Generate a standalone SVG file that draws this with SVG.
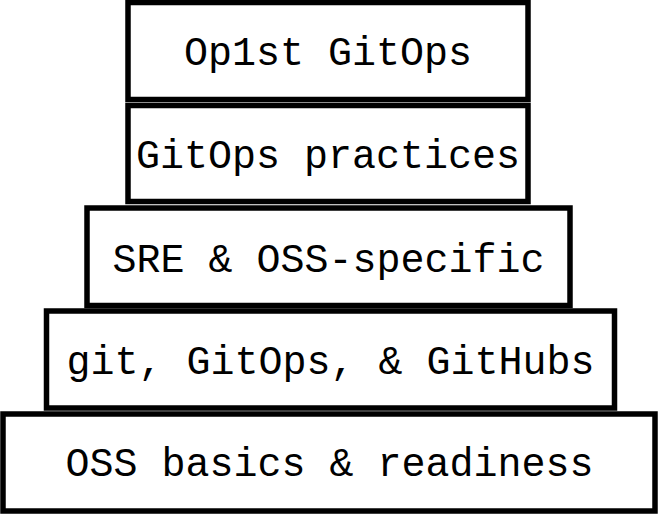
<svg xmlns="http://www.w3.org/2000/svg" width="658" height="514" viewBox="0 0 658 514">
<style>
.box{fill:#fff;stroke:#000;stroke-width:5.5}
.lbl{font-family:"Liberation Mono","DejaVu Sans Mono",monospace;font-size:40px;fill:#000;text-anchor:middle}
</style>
<rect width="658" height="514" fill="#fff"/>
<g id="connectors"></g>
<g id="layer1">
<rect class="box" x="128" y="2.5" width="400" height="97"/>
<text class="lbl" x="328" y="65">Op1st GitOps</text>
</g>
<g id="layer2">
<rect class="box" x="128" y="105.5" width="400" height="96"/>
<text class="lbl" x="328" y="168">GitOps practices</text>
</g>
<g id="layer3">
<rect class="box" x="87" y="208" width="483" height="97.5"/>
<text class="lbl" x="328.5" y="272">SRE &amp; OSS-specific</text>
</g>
<g id="layer4">
<rect class="box" x="46.5" y="311" width="568" height="97"/>
<text class="lbl" x="330.5" y="374">git, GitOps, &amp; GitHubs</text>
</g>
<g id="layer5">
<rect class="box" x="3" y="414" width="652" height="97"/>
<text class="lbl" x="329.5" y="476">OSS basics &amp; readiness</text>
</g>
</svg>
